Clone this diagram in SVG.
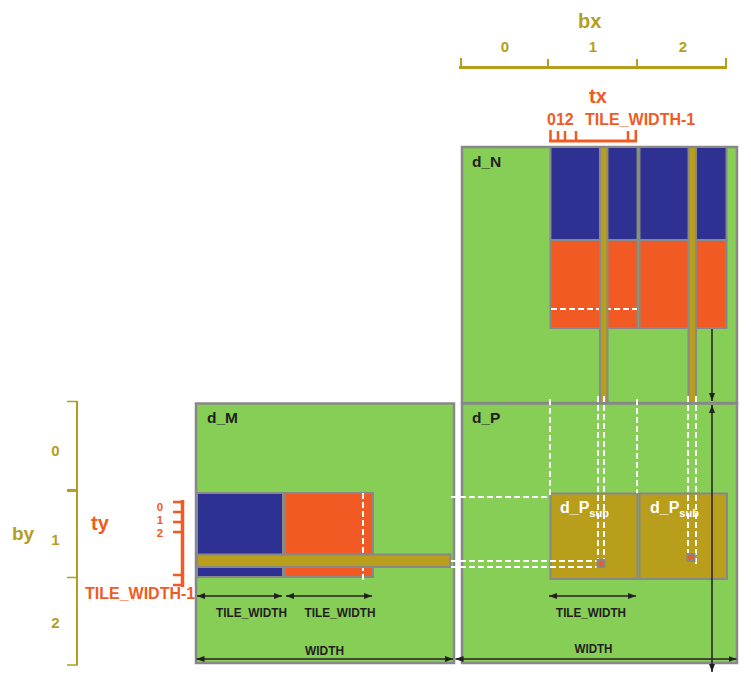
<svg xmlns="http://www.w3.org/2000/svg" width="751" height="681" viewBox="0 0 751 681">
<style>
  text { font-family: "Liberation Sans", Arial, sans-serif; font-weight: bold; }
  .gold { fill: #B59E1E; }
  .orng { fill: #F15A22; }
  .dark { fill: #231F20; }
  .white { fill: #FFFFFF; }
  .box { fill: #86CE55; stroke: #888888; stroke-width: 2.5; }
  .blue { fill: #2E3192; stroke: #888888; stroke-width: 2; }
  .red { fill: #F15A22; stroke: #888888; stroke-width: 2; }
  .bar { fill: #B89E1A; stroke: #888888; stroke-width: 2; }
  .dash { fill: none; stroke: #FFFFFF; stroke-width: 2; stroke-dasharray: 6 3; }
  .arr { fill: none; stroke: #231F20; stroke-width: 1.5; marker-end: url(#ah); }
  .arr2 { fill: none; stroke: #231F20; stroke-width: 1.5; marker-start: url(#ah); marker-end: url(#ah); }
  .gax { stroke: #B59E1E; fill: none; }
  .oax { stroke: #F15A22; fill: none; }
</style>
<defs>
  <marker id="ah" viewBox="0 0 8 6" refX="8" refY="3" markerWidth="8" markerHeight="6" markerUnits="userSpaceOnUse" orient="auto-start-reverse">
    <path d="M0,0 L8,3 L0,6 z" fill="#231F20"/>
  </marker>
</defs>

<!-- bx axis -->
<g id="axis-bx">
  <text class="gold" x="578" y="28" font-size="20">bx</text>
  <text class="gold" x="505" y="52" font-size="15" text-anchor="middle">0</text>
  <text class="gold" x="593" y="52" font-size="15" text-anchor="middle">1</text>
  <text class="gold" x="683" y="52" font-size="15" text-anchor="middle">2</text>
  <line class="gax" x1="459" y1="67.5" x2="727" y2="67.5" stroke-width="3"/>
  <path class="gax" stroke-width="2" d="M461,58 V67 M548,59 V67 M637,59 V67 M726,58 V67"/>
</g>

<!-- tx axis -->
<g id="axis-tx">
  <text class="orng" x="589" y="103" font-size="20">tx</text>
  <text class="orng" x="547" y="125" font-size="16">012</text>
  <text class="orng" x="585" y="125" font-size="16">TILE_WIDTH-1</text>
  <line class="oax" x1="549" y1="141" x2="637" y2="141" stroke-width="3"/>
  <path class="oax" stroke-width="2.5" d="M550.5,130 V141 M558,131 V141 M565,131 V141 M576,131 V141 M628,131 V141 M635.8,130 V141"/>
</g>

<!-- by axis -->
<g id="axis-by">
  <text class="gold" x="12" y="540" font-size="19">by</text>
  <text class="gold" x="55.5" y="456" font-size="15" text-anchor="middle">0</text>
  <text class="gold" x="55.5" y="545" font-size="15" text-anchor="middle">1</text>
  <text class="gold" x="55.5" y="628" font-size="15" text-anchor="middle">2</text>
  <line class="gax" x1="77" y1="401" x2="77" y2="665.5" stroke-width="2"/>
  <path class="gax" stroke-width="1.5" d="M67,401.5 H77 M67,577.5 H77 M67,665 H77"/>
  <path class="gax" stroke-width="3" d="M67,490.5 H77"/>
</g>

<!-- ty axis -->
<g id="axis-ty">
  <text class="orng" x="91" y="530" font-size="20">ty</text>
  <text class="orng" x="160" y="511" font-size="11.5" text-anchor="middle">0</text>
  <text class="orng" x="160" y="524" font-size="11.5" text-anchor="middle">1</text>
  <text class="orng" x="160" y="537" font-size="11.5" text-anchor="middle">2</text>
  <text class="orng" x="85" y="599" font-size="16">TILE_WIDTH-1</text>
  <line class="oax" x1="182.5" y1="500" x2="182.5" y2="587" stroke-width="3.5"/>
  <path class="oax" stroke-width="2.5" d="M173,502 H183 M173,512 H183 M173,522 H183 M173,532 H183 M173,575 H183 M173,585 H183"/>
</g>

<!-- d_N -->
<g id="d_N">
  <rect class="box" x="462" y="147" width="275" height="256"/>
  <text class="dark" x="472" y="167" font-size="15.5">d_N</text>
  <rect class="blue" x="550.5" y="147" width="87" height="93"/>
  <rect class="red" x="550.5" y="240" width="87" height="88"/>
  <rect class="blue" x="639.5" y="147" width="87" height="93"/>
  <rect class="red" x="639.5" y="240" width="87" height="88"/>
  <line class="dash" x1="551" y1="309" x2="637" y2="309"/>
  <rect class="bar" x="600" y="147" width="7.5" height="256"/>
  <rect class="bar" x="688.5" y="147" width="7.5" height="256"/>
</g>

<!-- d_M -->
<g id="d_M">
  <rect class="box" x="196" y="403.5" width="258" height="259.5"/>
  <text class="dark" x="207" y="423" font-size="15.5">d_M</text>
  <rect class="blue" x="197" y="493" width="86" height="84"/>
  <rect class="red" x="285" y="493" width="88" height="84"/>
  <line class="dash" x1="363" y1="493" x2="363" y2="583"/>
  <rect class="bar" x="197" y="554.5" width="253.5" height="12.5"/>
</g>

<!-- d_P -->
<g id="d_P">
  <rect class="box" x="462" y="403.5" width="275" height="259.5"/>
  <text class="dark" x="472" y="423" font-size="15.5">d_P</text>
</g>

<g id="d_Psub_1">
  <rect class="bar" x="550.5" y="493.5" width="87" height="85.5"/>
  <text class="white" x="560" y="513" font-size="16">d_P<tspan font-size="11" dy="4">sub</tspan></text>
</g>
<g id="d_Psub_2">
  <rect class="bar" x="639.5" y="493.5" width="87.5" height="85.5"/>
  <text class="white" x="650" y="513" font-size="16">d_P<tspan font-size="11" dy="4">sub</tspan></text>
</g>

<!-- connectors -->
<g id="connectors">
  <!-- white dashed guide lines -->
  <path class="dash" d="M451,497 H550 M550,399 V497 M637,399 V493"/>
  <path class="dash" d="M598,396 V561 M604,396 V561"/>
  <path class="dash" d="M688,396 V555 M696,396 V567"/>
  <path class="dash" d="M451,561 H598 M451,567 H598"/>
  <!-- thread squares -->
  <rect x="597.5" y="560" width="7" height="7" fill="#F15A22" stroke="#888888" stroke-width="2"/>
  <rect x="687.5" y="554" width="7" height="7" fill="#F15A22" stroke="#888888" stroke-width="2"/>
  <!-- dimension arrows -->
  <line class="arr2" x1="197" y1="596" x2="282" y2="596"/>
  <line class="arr2" x1="286" y1="596" x2="372" y2="596"/>
  <line class="arr2" x1="549" y1="596" x2="636" y2="596"/>
  <line class="arr2" x1="196.5" y1="659" x2="453" y2="659"/>
  <line class="arr2" x1="455.5" y1="659" x2="736.5" y2="659"/>
  <line class="arr" x1="712" y1="329" x2="712" y2="401"/>
  <line class="arr2" x1="712" y1="405" x2="712" y2="672"/>
  <!-- labels -->
  <text class="dark" x="251.5" y="616.5" font-size="13" text-anchor="middle" textLength="71" lengthAdjust="spacingAndGlyphs">TILE_WIDTH</text>
  <text class="dark" x="340" y="616.5" font-size="13" text-anchor="middle" textLength="71" lengthAdjust="spacingAndGlyphs">TILE_WIDTH</text>
  <text class="dark" x="591" y="616.5" font-size="13" text-anchor="middle" textLength="70" lengthAdjust="spacingAndGlyphs">TILE_WIDTH</text>
  <text class="dark" x="324.5" y="654.5" font-size="13" text-anchor="middle" textLength="39" lengthAdjust="spacingAndGlyphs">WIDTH</text>
  <text class="dark" x="593.5" y="653" font-size="13" text-anchor="middle" textLength="38" lengthAdjust="spacingAndGlyphs">WIDTH</text>
</g>
</svg>
